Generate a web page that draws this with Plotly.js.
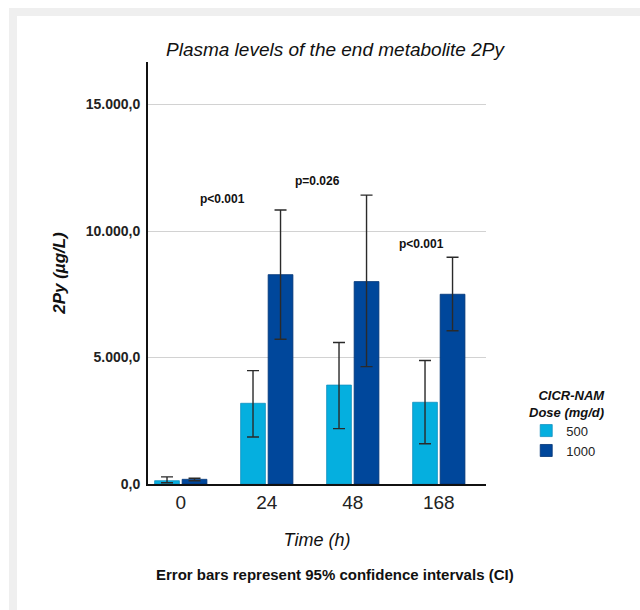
<!DOCTYPE html>
<html>
<head>
<meta charset="utf-8">
<script src="https://cdn.plot.ly/plotly-3.0.1.min.js"></script>
<style>
  html, body { margin: 0; padding: 0; background: #ffffff; width: 640px; height: 610px; overflow: hidden; }
  #frame { position: absolute; left: 9px; top: 8px; width: 631px; height: 602px; background: #efefef; }
  #chart { position: absolute; left: 17px; top: 16px; width: 623px; height: 594px; background: #ffffff; }
</style>
</head>
<body>
<div id="frame"></div>
<div id="chart"></div>
<script>
// Data
const times = ['0', '24', '48', '168'];
const mean500 = [130, 3190, 3910, 3230];
const upper500 = [280, 4480, 5590, 4880];
const lower500 = [50, 1860, 2190, 1590];
const mean1000 = [185, 8275, 8000, 7500];
const upper1000 = [225, 10830, 11420, 8960];
const lower1000 = [130, 5720, 4640, 6060];
const doseNames = ['500', '1000'];
const pLabels = ['p<0.001', 'p=0.026', 'p<0.001'];
const pX = [0.48, 1.595, 2.80];
const pY = [11265, 11976, 9486];

const FONT = 'Liberation Sans, Arial, Helvetica, sans-serif';

function diff(a, b) { return a.map((v, i) => v - b[i]); }

const errStyle = { type: 'data', symmetric: false, color: '#2a2a2a', thickness: 1.4, width: 6 };

const traces = [
  {
    type: 'bar', name: doseNames[0], x: times, y: mean500,
    marker: { color: '#05afdf', line: { color: '#1390c0', width: 0.8 } },
    error_y: Object.assign({}, errStyle, { array: diff(upper500, mean500), arrayminus: diff(mean500, lower500) })
  },
  {
    type: 'bar', name: doseNames[1], x: times, y: mean1000,
    marker: { color: '#00479b', line: { color: '#003475', width: 0.8 } },
    error_y: Object.assign({}, errStyle, { array: diff(upper1000, mean1000), arrayminus: diff(mean1000, lower1000) })
  }
];

const annotations = pLabels.map((t, i) => ({
  text: '<b>' + t + '</b>', x: pX[i], y: pY[i], xref: 'x', yref: 'y',
  showarrow: false, font: { family: FONT, size: 12, color: '#111' }
}));

annotations.push({
  text: '<b>Error bars represent 95% confidence intervals (CI)</b>',
  xref: 'paper', yref: 'paper', x: 0.553, y: -0.2156, xanchor: 'center', yanchor: 'middle',
  showarrow: false, font: { family: FONT, size: 15, color: '#111' }
});
annotations.push({
  text: '<b><i>CICR-NAM</i></b><br><b><i>Dose (mg/d)</i></b>',
  xref: 'paper', yref: 'paper', x: 1.358, y: 0.1884, xanchor: 'right', yanchor: 'middle', align: 'right',
  showarrow: false, font: { family: FONT, size: 13, color: '#111' }
});

const layout = {
  width: 623, height: 594,
  margin: { l: 131, r: 154, t: 46, b: 126 },
  paper_bgcolor: '#ffffff', plot_bgcolor: '#ffffff',
  separators: ',.',
  font: { family: FONT, color: '#111' },
  title: {
    text: '<i>Plasma levels of the end metabolite 2Py</i>',
    xref: 'container', yref: 'container', x: 0.5104, y: 0.9444, xanchor: 'center', yanchor: 'middle',
    font: { family: FONT, size: 19, color: '#111' }
  },
  barmode: 'group', bargap: 0.36, bargroupgap: 0.1,
  xaxis: {
    type: 'category', categoryorder: 'array', categoryarray: times,
    range: [-0.381, 3.549], showline: true, linecolor: '#111', linewidth: 2,
    showgrid: false, ticks: '', zeroline: false,
    tickfont: { family: FONT, size: 19, color: '#222' },
    title: { text: '<i>Time (h)</i>', font: { family: FONT, size: 18, color: '#111' }, standoff: 22 }
  },
  yaxis: {
    range: [0, 16680], tick0: 0, dtick: 5000, tickformat: ',.1f',
    showline: true, linecolor: '#111', linewidth: 2,
    showgrid: true, gridcolor: '#d2d2d2', gridwidth: 1, zeroline: false, ticks: '',
    ticklabelstandoff: 3,
    tickfont: { family: FONT, size: 14, color: '#222', weight: 'bold' },
    title: { text: '<b><i>2Py (µg/L)</i></b>', font: { family: FONT, size: 17, color: '#111' }, standoff: 16 }
  },
  showlegend: true,
  legend: {
    x: 1.119, y: 0.162, xanchor: 'left', yanchor: 'top',
    font: { family: FONT, size: 13, color: '#222' },
    bgcolor: 'rgba(0,0,0,0)', tracegroupgap: 0, itemwidth: 30, traceorder: 'normal'
  },
  annotations: annotations
};

Plotly.newPlot('chart', traces, layout, { displayModeBar: false, staticPlot: true });
</script>
</body>
</html>
